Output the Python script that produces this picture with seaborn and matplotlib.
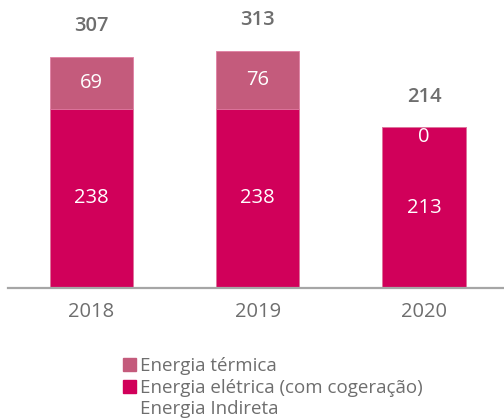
import matplotlib
matplotlib.use("Agg")
import matplotlib.pyplot as plt
import seaborn as sns
import pandas as pd
from matplotlib.patches import Patch

anos = ["2018", "2019", "2020"]
eletrica = [238, 238, 213]
termica = [69, 76, 0]
totais = [307, 313, 214]

cor_eletrica = "#D1005A"
cor_termica = "#C45B7C"
cor_texto = "#6E6E6E"

sns.set_style("white")
plt.rcParams["font.family"] = ["Open Sans", "DejaVu Sans"]

df = pd.DataFrame({"ano": anos, "eletrica": eletrica, "termica": termica})
df["soma"] = df["eletrica"] + df["termica"]

fig = plt.figure(figsize=(5.04, 4.2), dpi=100)
ax = fig.add_axes([8 / 504, 1 - 288 / 420, 496 / 504, 288 / 420])

# barra total (térmica) atrás, elétrica na frente
sns.barplot(data=df, x="ano", y="soma", color=cor_termica, saturation=1,
            width=0.5, edgecolor="#E07FA3", linewidth=0.6, ax=ax)
sns.barplot(data=df, x="ano", y="eletrica", color=cor_eletrica, saturation=1,
            width=0.5, edgecolor="#E07FA3", linewidth=0.6, ax=ax)

ax.set_xlim(-0.5, 2.48)
ax.set_ylim(0, 382)
ax.set_xlabel("")
ax.set_ylabel("")
ax.set_yticks([])
sns.despine(ax=ax, left=True, top=True, right=True)
ax.spines["bottom"].set_color("#A6A6A6")
ax.spines["bottom"].set_linewidth(1.6)
ax.tick_params(axis="x", length=0, pad=10, labelsize=14.5, labelcolor=cor_texto)

for i in range(len(anos)):
    e = eletrica[i]
    t = termica[i]
    ax.text(i, e / 2, str(e), ha="center", va="center", color="white", fontsize=14.5)
    if t > 0:
        ax.text(i, e + t / 2, str(t), ha="center", va="center", color="white", fontsize=14.5)
    else:
        ax.text(i, e, str(t), ha="center", va="top", color="white", fontsize=14.5)
    ax.text(i, e + t + 41, str(totais[i]), ha="center", va="center",
            color=cor_texto, fontsize=14.5, fontweight="semibold")

handles = [Patch(color=cor_termica), Patch(color=cor_eletrica), Patch(color="none")]
labels = ["Energia térmica", "Energia elétrica (com cogeração)", "Energia Indireta"]
fig.legend(handles, labels, loc="upper left", bbox_to_anchor=(123 / 504, 1 - 357 / 420),
           frameon=False, fontsize=13.5, labelcolor=cor_texto, handlelength=0.7,
           handleheight=0.7, handletextpad=0.2, labelspacing=0.2, borderpad=0,
           borderaxespad=0)

fig.savefig("out.png", dpi=100)
